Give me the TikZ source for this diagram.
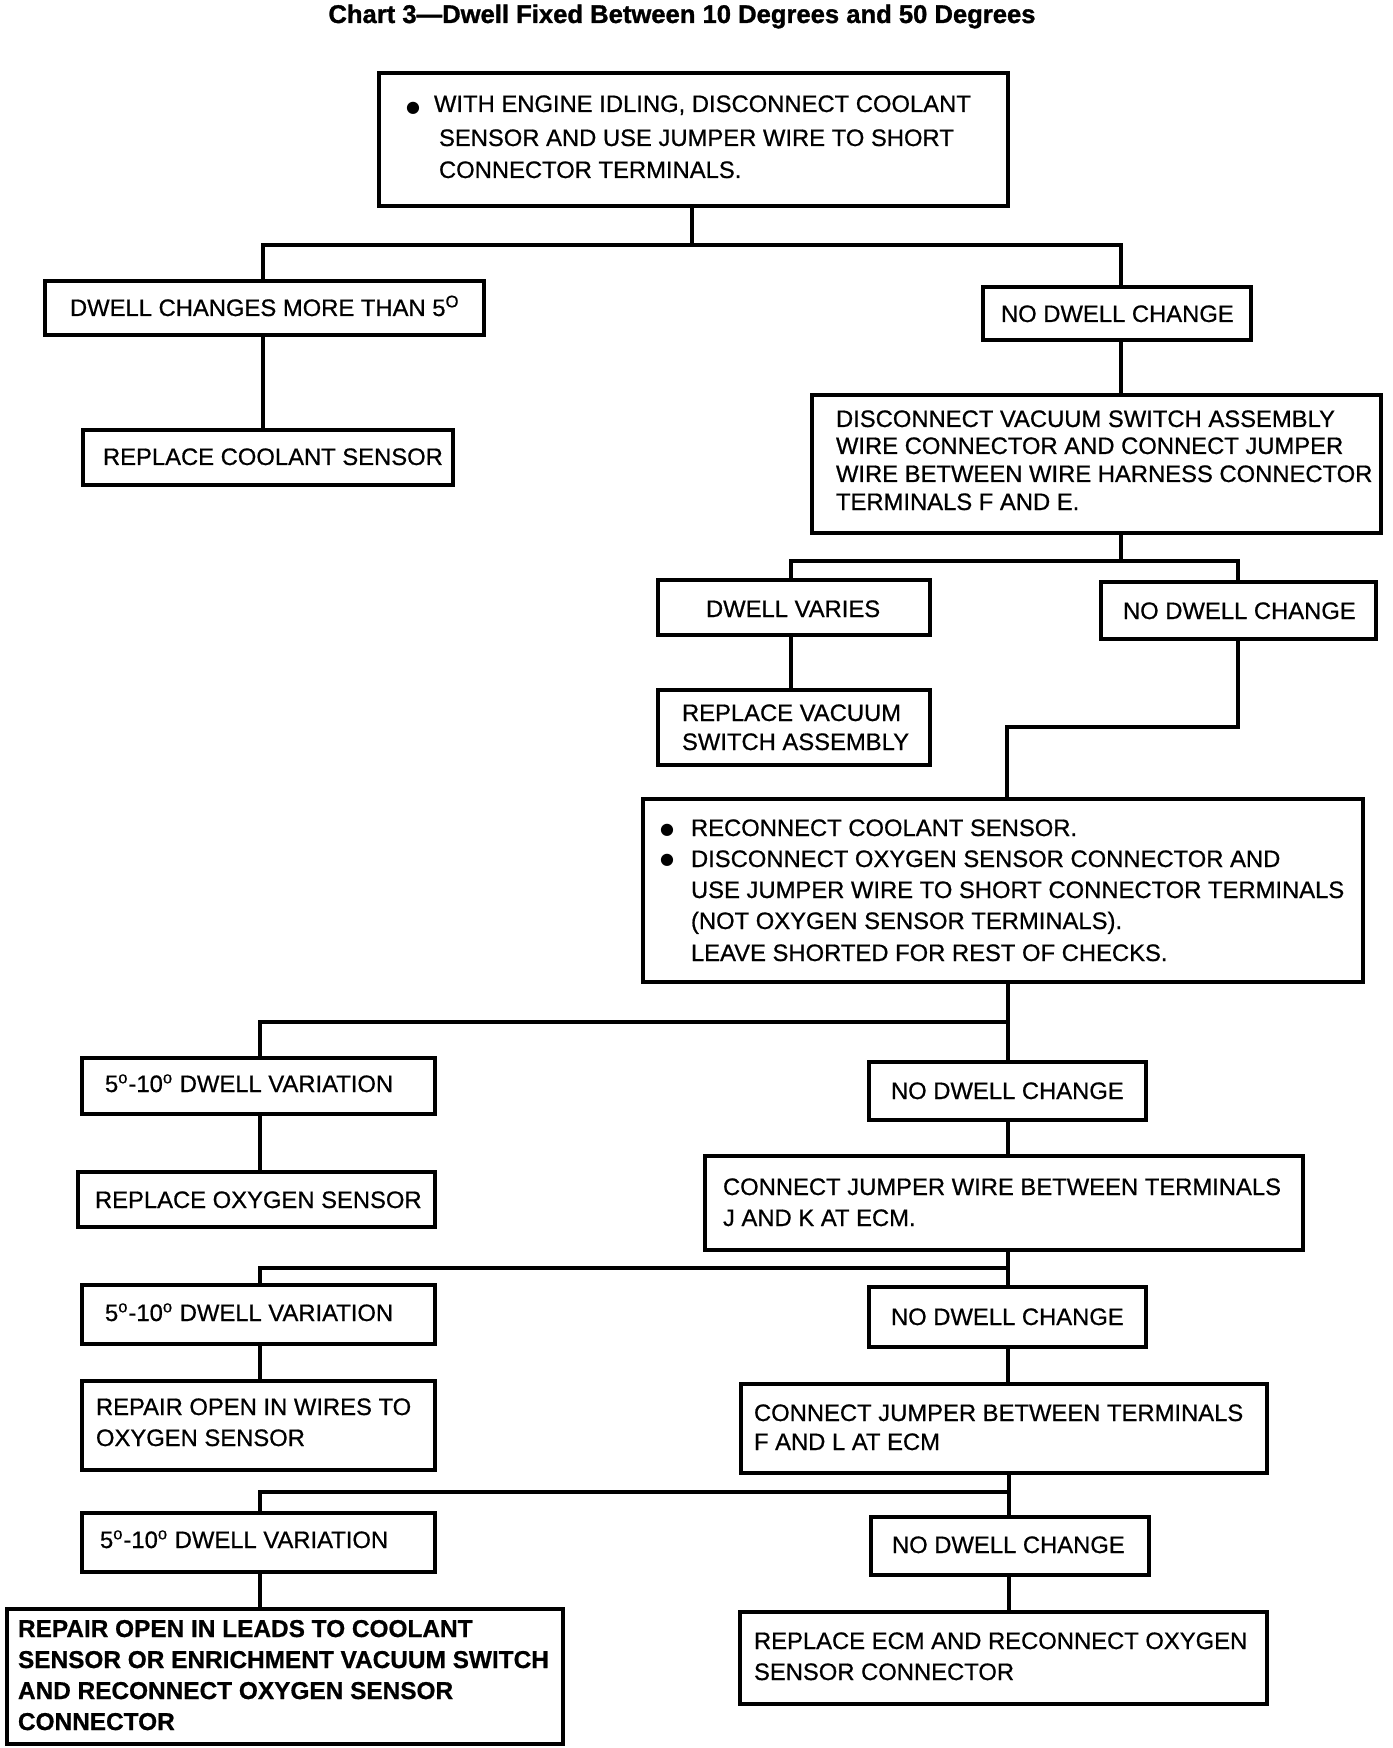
\documentclass[tikz,border=0pt]{standalone}
\usepackage{fontspec}
\setmainfont{Liberation Sans}[FakeBold=0.7]
\newfontfamily\symfont{DejaVu Sans}
\newfontfamily\headfont{Liberation Sans Bold}[FakeBold=1.2]
\usetikzlibrary{fit}
\tikzset{
  box/.style={draw, line width=2pt, inner sep=0pt, outer sep=0pt},
  wire/.style={line width=2pt, line join=miter},
  txt/.style={inner sep=0pt, outer sep=0pt, anchor=base west, font=\fontsize{11.9}{14}\selectfont},
  btxt/.style={txt, font=\bfseries\fontsize{12.2}{14}\selectfont},
  bul/.style={inner sep=0pt, outer sep=0pt, anchor=center, font=\symfont\fontsize{8}{8}\selectfont},
  ttl/.style={inner sep=0pt, anchor=base, font=\headfont\fontsize{12.8}{14}\selectfont}
}
\newcommand\txtline[4]{\node[txt] (#1) at (#2,#3) {#4};}
\newcommand\bxline[4]{\node[btxt] (#1) at (#2,#3) {#4};}
\begin{document}
\begin{tikzpicture}[x=0.5pt,y=-0.5pt]
\useasboundingbox (0,0) rectangle (1392,1748);

\node[ttl] (title) at (682,23) {Chart 3—Dwell Fixed Between 10 Degrees and 50 Degrees};

% boxes
\node[box, fit={(379,73) (1008,206)}] (b1) {};
\node[box, fit={(45,281) (484,335)}] (b2) {};
\node[box, fit={(983,287) (1251,340)}] (b3) {};
\node[box, fit={(83,430) (453,485)}] (b4) {};
\node[box, fit={(812,395) (1381,533)}] (b5) {};
\node[box, fit={(658,580) (930,635)}] (b6) {};
\node[box, fit={(1101,582) (1376,639)}] (b7) {};
\node[box, fit={(658,690) (930,765)}] (b8) {};
\node[box, fit={(643,799) (1363,982)}] (b9) {};
\node[box, fit={(82,1058) (435,1114)}] (b10) {};
\node[box, fit={(869,1062) (1146,1120)}] (b11) {};
\node[box, fit={(78,1172) (435,1227)}] (b12) {};
\node[box, fit={(705,1156) (1303,1250)}] (b13) {};
\node[box, fit={(82,1285) (435,1344)}] (b14) {};
\node[box, fit={(869,1287) (1146,1347)}] (b15) {};
\node[box, fit={(82,1381) (435,1470)}] (b16) {};
\node[box, fit={(741,1384) (1267,1473)}] (b17) {};
\node[box, fit={(82,1513) (435,1572)}] (b18) {};
\node[box, fit={(871,1517) (1149,1575)}] (b19) {};
\node[box, fit={(7,1609) (563,1744)}] (b20) {};
\node[box, fit={(740,1612) (1267,1704)}] (b21) {};

% texts
\node[bul] (u1) at (413,108) {●};
\txtline{t1a}{434}{112}{WITH ENGINE IDLING, DISCONNECT COOLANT}
\txtline{t1b}{439}{146}{SENSOR AND USE JUMPER WIRE TO SHORT}
\txtline{t1c}{439}{178}{CONNECTOR TERMINALS.}

\txtline{t2}{70}{316}{DWELL CHANGES MORE THAN 5\textsuperscript{O}}
\txtline{t3}{1001}{322}{NO DWELL CHANGE}
\txtline{t4}{103}{465}{REPLACE COOLANT SENSOR}

\txtline{t5a}{836}{427}{DISCONNECT VACUUM SWITCH ASSEMBLY}
\txtline{t5b}{836}{454}{WIRE CONNECTOR AND CONNECT JUMPER}
\txtline{t5c}{836}{482}{WIRE BETWEEN WIRE HARNESS CONNECTOR}
\txtline{t5d}{836}{510}{TERMINALS F AND E.}

\txtline{t6}{706}{617}{DWELL VARIES}
\txtline{t7}{1123}{619}{NO DWELL CHANGE}
\txtline{t8a}{682}{721}{REPLACE VACUUM}
\txtline{t8b}{682}{750}{SWITCH ASSEMBLY}

\node[bul] (u2) at (667,830) {●};
\node[bul] (u3) at (667,860) {●};
\txtline{t9a}{691}{836}{RECONNECT COOLANT SENSOR.}
\txtline{t9b}{691}{867}{DISCONNECT OXYGEN SENSOR CONNECTOR AND}
\txtline{t9c}{691}{898}{USE JUMPER WIRE TO SHORT CONNECTOR TERMINALS}
\txtline{t9d}{691}{929}{(NOT OXYGEN SENSOR TERMINALS).}
\txtline{t9e}{691}{961}{LEAVE SHORTED FOR REST OF CHECKS.}

\txtline{t10}{105}{1092}{5\textsuperscript{o}-10\textsuperscript{o} DWELL VARIATION}
\txtline{t11}{891}{1099}{NO DWELL CHANGE}
\txtline{t12}{95}{1208}{REPLACE OXYGEN SENSOR}
\txtline{t13a}{723}{1195}{CONNECT JUMPER WIRE BETWEEN TERMINALS}
\txtline{t13b}{723}{1226}{J AND K AT ECM.}

\txtline{t14}{105}{1321}{5\textsuperscript{o}-10\textsuperscript{o} DWELL VARIATION}
\txtline{t15}{891}{1325}{NO DWELL CHANGE}
\txtline{t16a}{96}{1415}{REPAIR OPEN IN WIRES TO}
\txtline{t16b}{96}{1446}{OXYGEN SENSOR}
\txtline{t17a}{754}{1421}{CONNECT JUMPER BETWEEN TERMINALS}
\txtline{t17b}{754}{1450}{F AND L AT ECM}

\txtline{t18}{100}{1548}{5\textsuperscript{o}-10\textsuperscript{o} DWELL VARIATION}
\txtline{t19}{892}{1553}{NO DWELL CHANGE}
\bxline{t20a}{18}{1637}{REPAIR OPEN IN LEADS TO COOLANT}
\bxline{t20b}{18}{1668}{SENSOR OR ENRICHMENT VACUUM SWITCH}
\bxline{t20c}{18}{1699}{AND RECONNECT OXYGEN SENSOR}
\bxline{t20d}{18}{1730}{CONNECTOR}
\txtline{t21a}{754}{1649}{REPLACE ECM AND RECONNECT OXYGEN}
\txtline{t21b}{754}{1680}{SENSOR CONNECTOR}

% connectors
\coordinate (M1) at (692,245);
\coordinate (L1) at (263,245);
\coordinate (R1) at (1121,245);
\draw[wire] (b1.south -| M1) -- (M1);
\draw[wire] (b2.north -| L1) -- (L1) -- (R1) -- (b3.north -| R1);
\draw[wire] (b2.south -| L1) -- (b4.north -| L1);
\draw[wire] (b3.south -| R1) -- (b5.north -| R1);

\coordinate (M2) at (1121,561);
\coordinate (L2) at (791,561);
\coordinate (R2) at (1238,561);
\draw[wire] (b5.south -| M2) -- (M2);
\draw[wire] (b6.north -| L2) -- (L2) -- (R2) -- (b7.north -| R2);
\draw[wire] (b6.south -| L2) -- (b8.north -| L2);

\coordinate (K1) at (1238,727);
\coordinate (K2) at (1007,727);
\draw[wire] (b7.south -| K1) -- (K1) -- (K2) -- (b9.north -| K2);

\coordinate (M4) at (1008,1022);
\coordinate (L4) at (260,1022);
\draw[wire] (b9.south -| M4) -- (b11.north -| M4);
\draw[wire] (M4) -- (L4) -- (b10.north -| L4);
\draw[wire] (b10.south -| L4) -- (b12.north -| L4);
\draw[wire] (b11.south -| M4) -- (b13.north -| M4);

\coordinate (M5) at (1008,1268);
\coordinate (L5) at (260,1268);
\draw[wire] (b13.south -| M5) -- (b15.north -| M5);
\draw[wire] (M5) -- (L5) -- (b14.north -| L5);
\draw[wire] (b14.south -| L5) -- (b16.north -| L5);
\draw[wire] (b15.south -| M5) -- (b17.north -| M5);

\coordinate (M6) at (1009,1492);
\coordinate (L6) at (260,1492);
\draw[wire] (b17.south -| M6) -- (b19.north -| M6);
\draw[wire] (M6) -- (L6) -- (b18.north -| L6);
\draw[wire] (b18.south -| L6) -- (b20.north -| L6);
\draw[wire] (b19.south -| M6) -- (b21.north -| M6);
\end{tikzpicture}
\end{document}
